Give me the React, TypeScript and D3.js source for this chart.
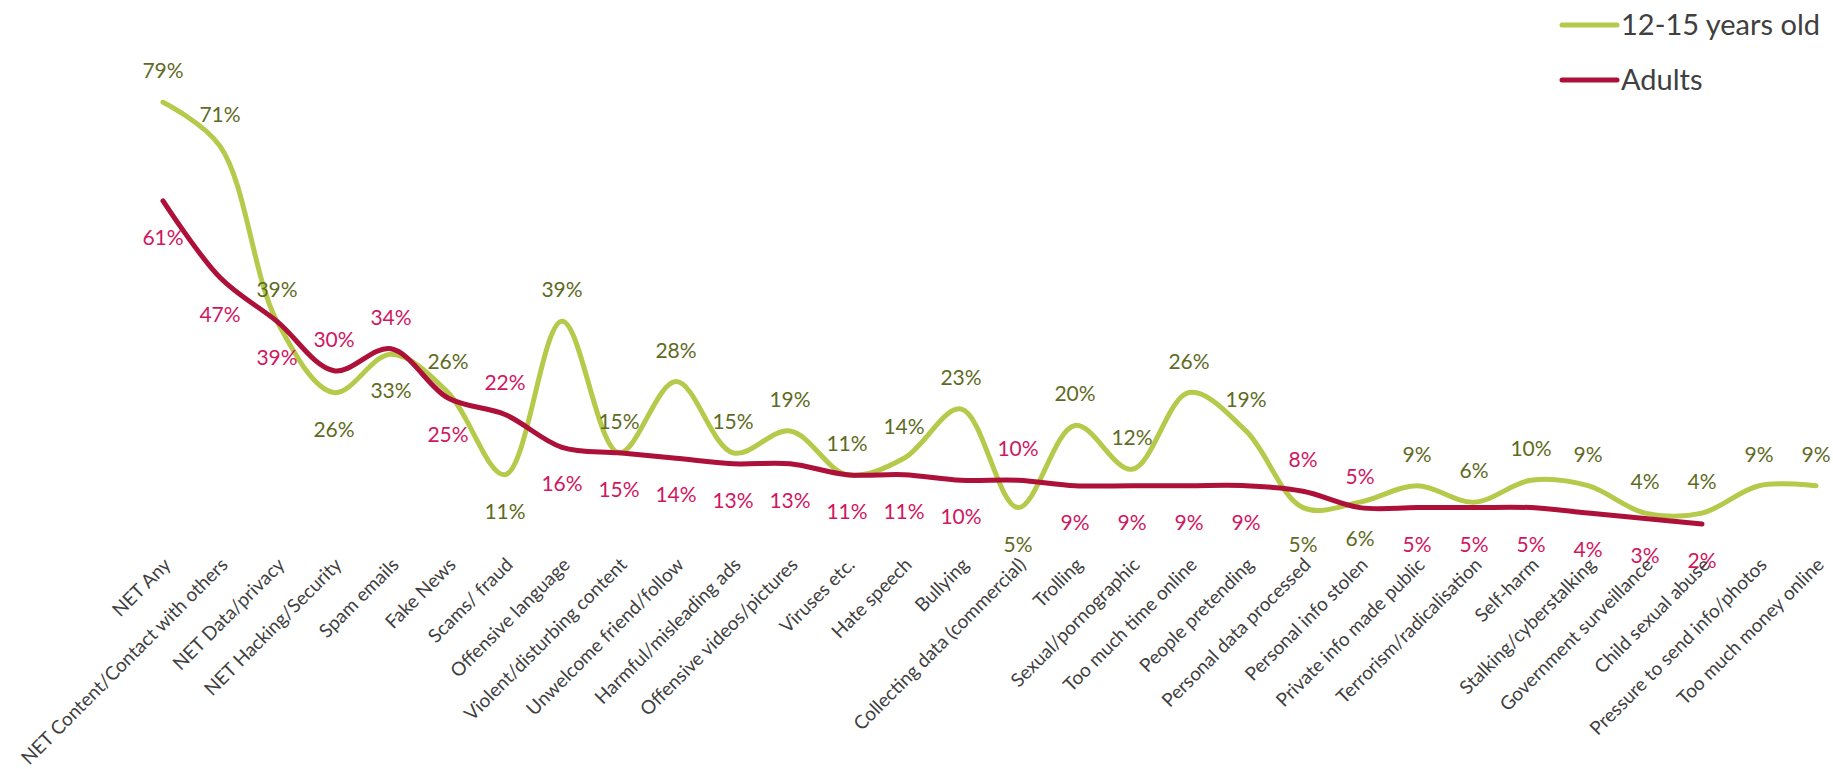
import React from "react";
import * as d3 from "d3";

const categories = [
  "NET Any",
  "NET Content/Contact with others",
  "NET Data/privacy",
  "NET Hacking/Security",
  "Spam emails",
  "Fake News",
  "Scams/ fraud",
  "Offensive language",
  "Violent/disturbing content",
  "Unwelcome friend/follow",
  "Harmful/misleading ads",
  "Offensive videos/pictures",
  "Viruses etc.",
  "Hate speech",
  "Bullying",
  "Collecting data (commercial)",
  "Trolling",
  "Sexual/pornographic",
  "Too much time online",
  "People pretending",
  "Personal data processed",
  "Personal info stolen",
  "Private info made public",
  "Terrorism/radicalisation",
  "Self-harm",
  "Stalking/cyberstalking",
  "Government surveillance",
  "Child sexual abuse",
  "Pressure to send info/photos",
  "Too much money online",
];

const teens: number[] = [79, 71, 39, 26, 33, 26, 11, 39, 15, 28, 15, 19, 11, 14, 23, 5, 20, 12, 26, 19, 5, 6, 9, 6, 10, 9, 4, 4, 9, 9];
const adults: (number | null)[] = [61, 47, 39, 30, 34, 25, 22, 16, 15, 14, 13, 13, 11, 11, 10, 10, 9, 9, 9, 9, 8, 5, 5, 5, 5, 4, 3, 2, null, null];

// label placement: a = above, b = below
const teenLabelSide = "aaabbabaaaaaaaabaaaabbaaaaaaaa".split("");
const adultLabelSide = "bbbaababbbbbbbbabbbbaabbbbbb".split("");

const seriesNames = ["12-15 years old", "Adults"];

const W = 1833;
const H = 769;
const FONT = "Lato, 'Open Sans', sans-serif";
const teenColor = "#b5ca4b";
const adultColor = "#ad1038";
const teenLabelColor = "#5f6b23";
const adultLabelColor = "#d0175f";

export default function App() {
  const x = d3.scalePoint<string>().domain(categories).range([163, 1816]);
  const y = d3.scaleLinear().domain([0, 90]).range([535, 42]);

  const line = d3
    .line<number | null>()
    .defined((d) => d !== null)
    .x((_, i) => x(categories[i]) as number)
    .y((d) => y(d as number))
    .curve(d3.curveCatmullRom.alpha(0.5));

  const labelY = (v: number, side: string) => (side === "a" ? y(v) - 24 : y(v) + 44);

  return (
    <svg width={W} height={H} style={{ position: "absolute", left: 0, top: 0, background: "#fff" }} fontFamily={FONT}>
      <path d={line(teens) || ""} fill="none" stroke={teenColor} strokeWidth={5} strokeLinecap="round" strokeLinejoin="round" />
      <path d={line(adults) || ""} fill="none" stroke={adultColor} strokeWidth={5} strokeLinecap="round" strokeLinejoin="round" />

      {teens.map((v, i) => (
        <text key={"t" + i} x={x(categories[i])} y={labelY(v, teenLabelSide[i])} textAnchor="middle" fontSize={21} fill={teenLabelColor}>
          {v}%
        </text>
      ))}
      {adults.map((v, i) =>
        v === null ? null : (
          <text key={"a" + i} x={x(categories[i])} y={labelY(v, adultLabelSide[i])} textAnchor="middle" fontSize={21} fill={adultLabelColor}>
            {v}%
          </text>
        )
      )}

      {categories.map((c) => (
        <text
          key={c}
          transform={`translate(${(x(c) as number) + 9},${566}) rotate(-45)`}
          textAnchor="end"
          fontSize={19}
          fill="#404040"
        >
          {c}
        </text>
      ))}

      {/* legend */}
      {seriesNames.map((s, i) => (
        <g key={s} transform={`translate(1562,${25 + i * 55})`}>
          <line x1={0} x2={55} y1={0} y2={0} stroke={i === 0 ? teenColor : adultColor} strokeWidth={5} strokeLinecap="round" />
          <text x={59} y={10} fontSize={29} fill="#404040">
            {s}
          </text>
        </g>
      ))}
    </svg>
  );
}
